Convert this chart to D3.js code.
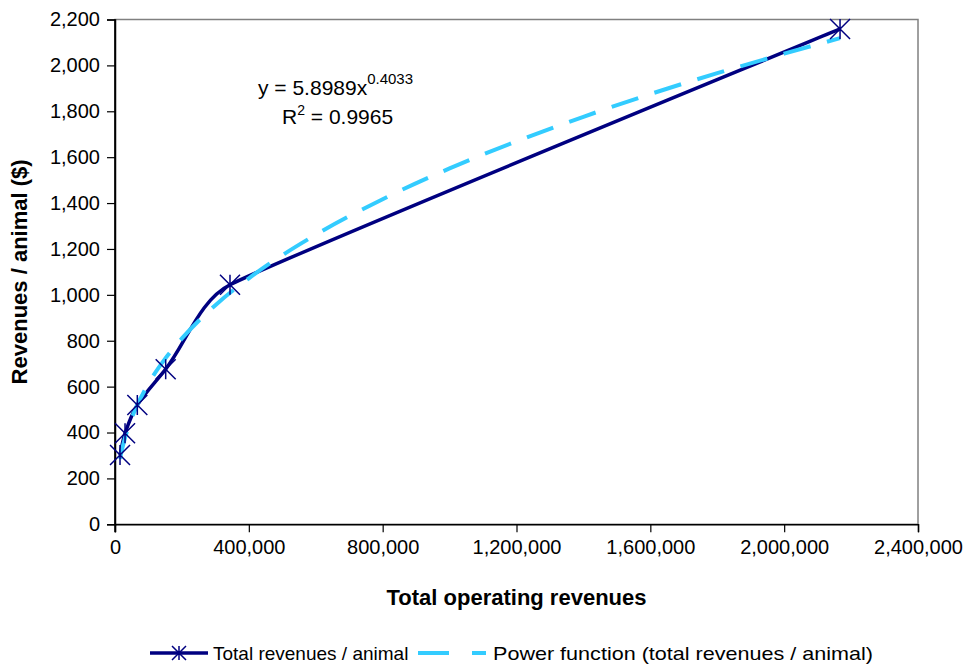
<!DOCTYPE html>
<html>
<head>
<meta charset="utf-8">
<script src="https://cdn.jsdelivr.net/npm/d3@7"></script>
<style>
  html, body { margin: 0; padding: 0; background: #fff; }
  svg { display: block; font-family: "Liberation Sans", Arial, sans-serif; }
</style>
</head>
<body>
<svg id="chart" width="967" height="665"></svg>
<script>
// ---- data ----
const revenueX = [15000, 30000, 66700, 151500, 343700, 2167000];   // total operating revenues
const perAnimalY = [302, 397, 520, 676, 1044, 2159];                // revenues / animal ($)

// power trendline
const trendX = [15000, 20000, 30000, 45000, 66700, 100000, 150000, 200000, 300000, 400000,
                600000, 800000, 1000000, 1200000, 1400000, 1600000, 1800000, 2000000, 2167000];
const trendY = [285, 320, 377, 444, 520, 613, 722, 810, 955, 1072,
                1262, 1417, 1551, 1669, 1776, 1875, 1966, 2051, 2119];

const xTicks = [0, 400000, 800000, 1200000, 1600000, 2000000, 2400000];
const yTicks = [0, 200, 400, 600, 800, 1000, 1200, 1400, 1600, 1800, 2000, 2200];

const seriesNames = ["Total revenues / animal", "Power function (total revenues / animal)"];
const equationText = ["y = 5.8989x", "0.4033"];
const r2Text = ["R", "2", " = 0.9965"];

// ---- layout ----
const svg = d3.select("#chart");
const L = 115, R = 918, T = 19.5, B = 524.3;
const navy = "#000080", cyan = "#33CCFF";

const x = d3.scaleLinear().domain([0, 2400000]).range([L, R]);
const y = d3.scaleLinear().domain([0, 2200]).range([B, T]);
const fmt = d3.format(",");

// plot area border (gray)
svg.append("rect").attr("x", L).attr("y", T).attr("width", R - L).attr("height", B - T)
  .attr("fill", "none").attr("stroke", "#808080").attr("stroke-width", 1.5);

// axes
const xAxis = svg.append("g").attr("transform", `translate(0,${B})`)
  .call(d3.axisBottom(x).tickValues(xTicks).tickFormat(fmt).tickSizeOuter(0).tickSize(8).tickPadding(8));
const yAxis = svg.append("g").attr("transform", `translate(${L},0)`)
  .call(d3.axisLeft(y).tickValues(yTicks).tickFormat(fmt).tickSizeOuter(0).tickSize(8).tickPadding(7));
[xAxis, yAxis].forEach(g => {
  g.select(".domain").attr("stroke", "#000").attr("stroke-width", 1.5);
  g.selectAll(".tick line").attr("stroke", "#000").attr("stroke-width", 1.2);
  g.selectAll(".tick text").attr("fill", "#000").attr("font-size", 20)
    .attr("font-family", "Liberation Sans, Arial, sans-serif");
});
svg.append("line").attr("x1", L).attr("x2", L).attr("y1", T).attr("y2", B + 8)
  .attr("stroke", "#000").attr("stroke-width", 1.5);

// axis titles
svg.append("text").attr("x", (L + R) / 2).attr("y", 605).attr("text-anchor", "middle")
  .attr("font-size", 22).attr("font-weight", "bold").text("Total operating revenues");
svg.append("text").attr("transform", `translate(27,${(T + B) / 2}) rotate(-90)`)
  .attr("text-anchor", "middle").attr("font-size", 22).attr("font-weight", "bold")
  .text("Revenues / animal ($)");

// smoothed line (Bezier through the points, control arms limited in length)
function smoothPath(p, t, cap) {
  const path = d3.path();
  path.moveTo(p[0][0], p[0][1]);
  const unit = (a, b) => { const dx = b[0] - a[0], dy = b[1] - a[1], l = Math.hypot(dx, dy) || 1; return [dx / l, dy / l]; };
  for (let i = 0; i < p.length - 1; i++) {
    const p0 = p[i - 1] || p[i], p1 = p[i], p2 = p[i + 1], p3 = p[i + 2] || p[i + 1];
    const seg = Math.hypot(p2[0] - p1[0], p2[1] - p1[1]);
    const len = Math.min(seg * t, cap);
    const d1 = unit(p0, p2), d2 = unit(p1, p3);
    path.bezierCurveTo(p1[0] + d1[0] * len, p1[1] + d1[1] * len,
                       p2[0] - d2[0] * len, p2[1] - d2[1] * len, p2[0], p2[1]);
  }
  return path.toString();
}

const pts = revenueX.map((v, i) => [x(v), y(perAnimalY[i])]);
svg.append("path").attr("d", smoothPath(pts, 0.32, 70))
  .attr("fill", "none").attr("stroke", navy).attr("stroke-width", 3.5)
  .attr("stroke-linejoin", "round");

// trendline (dashed)
const tpts = trendX.map((v, i) => [x(v), y(trendY[i])]);
svg.append("path").attr("d", d3.line().curve(d3.curveMonotoneX)(tpts))
  .attr("fill", "none").attr("stroke", cyan).attr("stroke-width", 4)
  .attr("stroke-dasharray", "28,17");

// star markers
function star(g, cx, cy, r) {
  const p = d3.path();
  p.moveTo(cx - r, cy - r); p.lineTo(cx + r, cy + r);
  p.moveTo(cx - r, cy + r); p.lineTo(cx + r, cy - r);
  p.moveTo(cx, cy - r); p.lineTo(cx, cy + r);
  g.append("path").attr("d", p.toString()).attr("stroke", navy).attr("stroke-width", 1.5).attr("fill", "none");
}
const mk = svg.append("g");
pts.forEach(p => star(mk, p[0], p[1], 10));

// equation
const eq = svg.append("text").attr("x", 258).attr("y", 95).attr("font-size", 21);
eq.append("tspan").text(equationText[0]);
eq.append("tspan").attr("dy", -11).attr("font-size", 15).text(equationText[1]);
const r2 = svg.append("text").attr("x", 282).attr("y", 124).attr("font-size", 21);
r2.append("tspan").text(r2Text[0]);
r2.append("tspan").attr("dy", -9).attr("font-size", 14).text(r2Text[1]);
r2.append("tspan").attr("dy", 9).text(r2Text[2]);

// legend
const lg = svg.append("g").attr("font-size", 19);
const ly = 653;
lg.append("line").attr("x1", 150).attr("x2", 208).attr("y1", ly).attr("y2", ly)
  .attr("stroke", navy).attr("stroke-width", 3.5);
star(lg, 179, ly, 7);
lg.append("text").attr("x", 213).attr("y", ly + 7).text(seriesNames[0]);
lg.append("line").attr("x1", 418).attr("x2", 486).attr("y1", ly).attr("y2", ly)
  .attr("stroke", cyan).attr("stroke-width", 4).attr("stroke-dasharray", "31,23");
lg.append("text").attr("x", 493).attr("y", ly + 7)
  .attr("textLength", 380).attr("lengthAdjust", "spacingAndGlyphs").text(seriesNames[1]);
</script>
</body>
</html>
